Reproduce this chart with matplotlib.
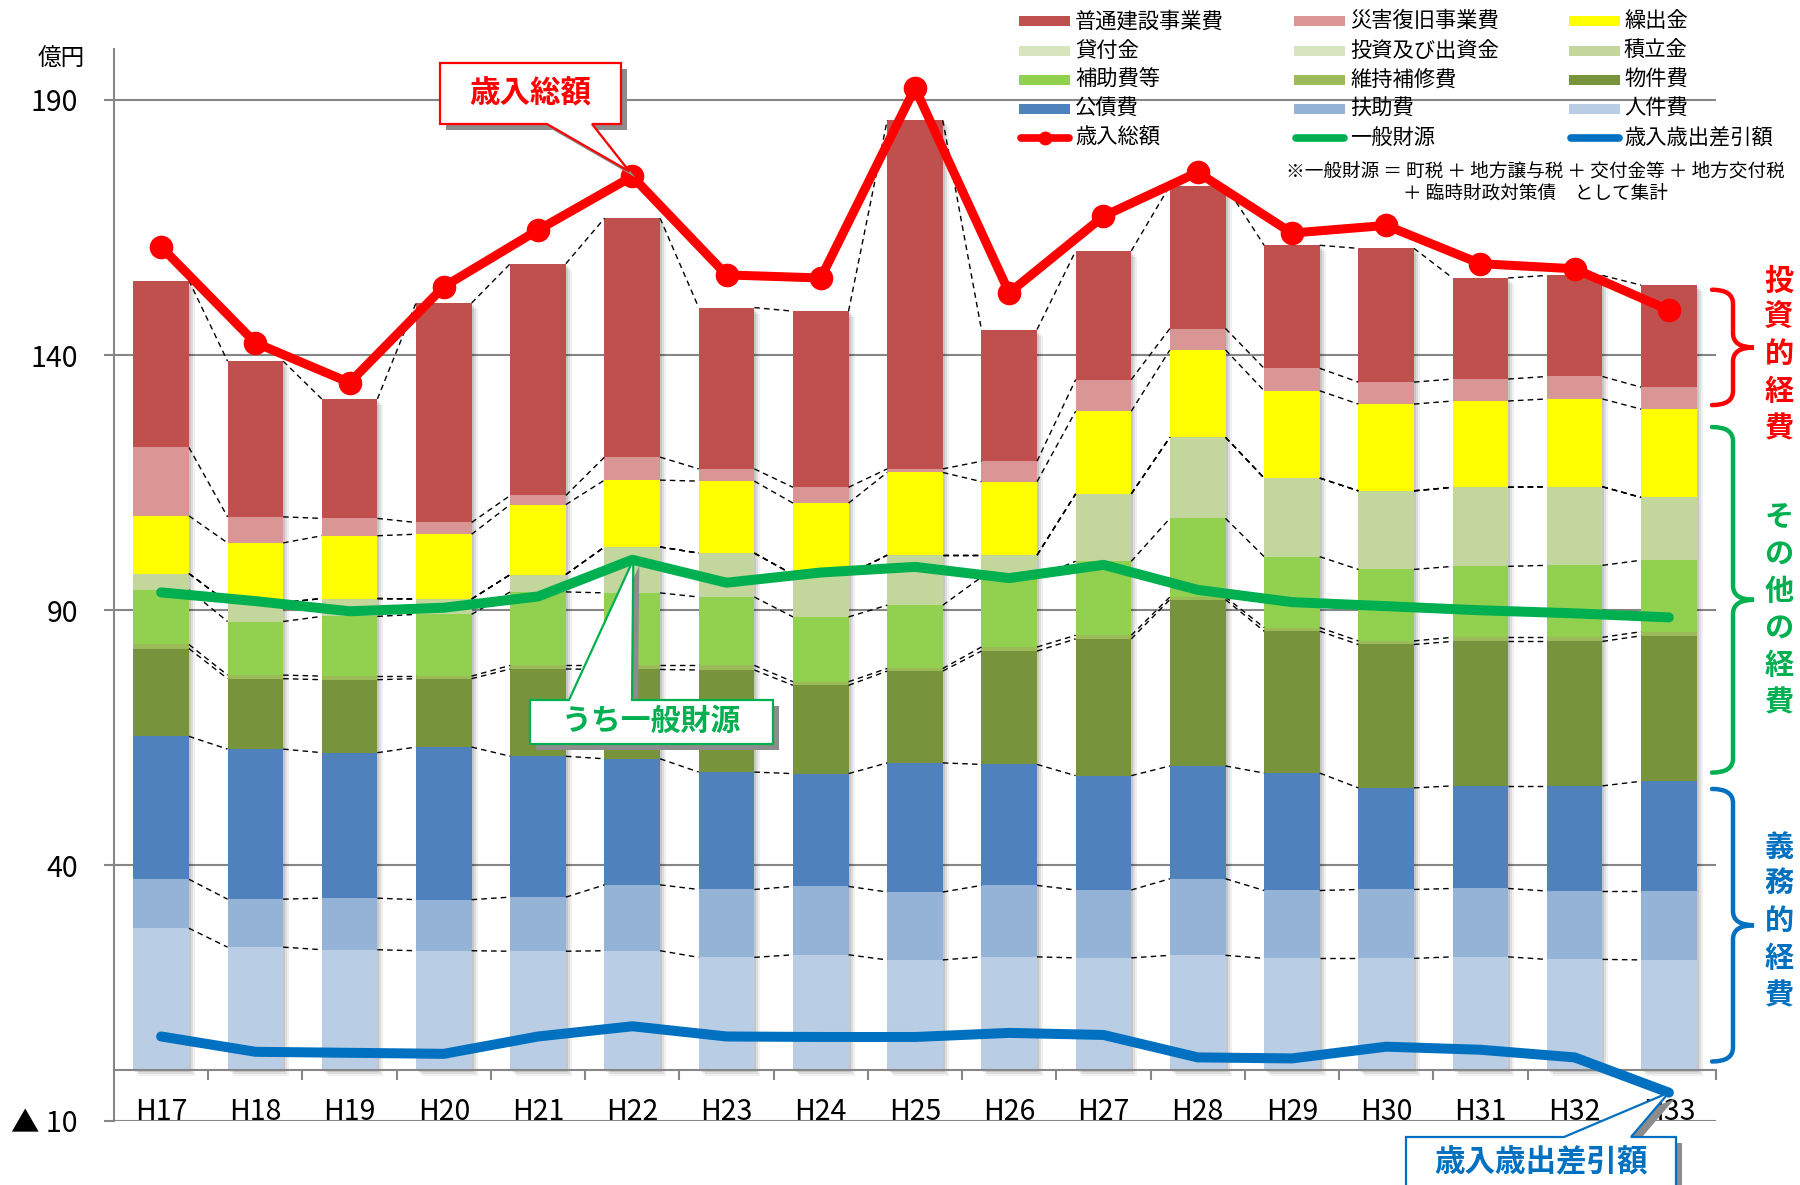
import matplotlib
matplotlib.use('Agg')
import matplotlib.pyplot as plt
import numpy as np
from matplotlib.patches import Rectangle, Polygon, PathPatch
from matplotlib.path import Path
from matplotlib.lines import Line2D
from matplotlib.collections import LineCollection
from matplotlib.transforms import offset_copy

plt.rcParams['font.family'] = ['Noto Sans CJK JP', 'DejaVu Sans']

# ---------------- data (億円) ----------------
years = ['H17', 'H18', 'H19', 'H20', 'H21', 'H22', 'H23', 'H24', 'H25',
         'H26', 'H27', 'H28', 'H29', 'H30', 'H31', 'H32', 'H33']

jinkenhi   = [27.7, 24.0, 23.5, 23.3, 23.2, 23.3, 22.0, 22.5, 21.5, 22.1, 21.9, 22.4, 21.8, 21.8, 22.1, 21.6, 21.5]  # 人件費
fujohi     = [9.6, 9.4, 10.1, 10.0, 10.6, 12.9, 13.3, 13.4, 13.3, 14.0, 13.3, 15.0, 13.3, 13.5, 13.4, 13.4, 13.5]     # 扶助費
kosaihi    = [28.0, 29.4, 28.5, 29.9, 27.6, 24.7, 23.0, 22.1, 25.3, 23.7, 22.4, 22.1, 23.0, 19.9, 20.1, 20.6, 21.5]    # 公債費
bukkenhi   = [17.2, 13.8, 14.3, 13.4, 17.1, 17.5, 20.0, 17.3, 18.0, 22.2, 26.8, 32.6, 27.8, 28.1, 28.3, 28.3, 28.5]    # 物件費
ijihoshu   = [0.8, 0.7, 0.7, 0.5, 0.7, 0.8, 0.9, 0.7, 0.5, 0.8, 0.7, 0.5, 0.7, 0.7, 0.8, 0.8, 0.8]                     # 維持補修費
hojohi     = [10.7, 10.5, 11.7, 12.1, 14.4, 14.2, 13.4, 12.7, 12.4, 13.7, 14.5, 15.4, 13.9, 14.0, 13.9, 14.1, 14.0]    # 補助費等
tsumitate  = [3.2, 3.7, 3.5, 3.0, 3.4, 9.0, 8.6, 8.3, 9.8, 4.3, 13.2, 15.9, 15.4, 15.4, 15.5, 15.4, 12.3]          # 積立金
toshi      = [0.0] * 17                                                                                              # 投資及び出資金
kashitsuke = [0.0] * 17                                                                                              # 貸付金
kuridashi  = [11.3, 11.7, 12.3, 12.7, 13.7, 13.1, 14.1, 14.0, 16.2, 14.4, 16.2, 17.1, 17.1, 17.0, 16.9, 17.2, 17.3] # 繰出金
saigai     = [13.4, 5.1, 3.4, 2.3, 1.8, 4.5, 2.4, 3.1, 0.7, 4.0, 6.2, 4.2, 4.4, 4.3, 4.3, 4.4, 4.3]                  # 災害復旧事業費
futsu      = [32.7, 30.5, 23.4, 43.0, 45.4, 46.8, 31.6, 34.5, 68.3, 25.8, 25.2, 28.0, 24.1, 26.2, 19.8, 19.8, 20.0]    # 普通建設事業費

revenue_total = [161.2, 142.4, 134.6, 153.4, 164.5, 175.0, 155.7, 155.1, 192.3,
                 152.2, 167.2, 175.8, 163.9, 165.4, 157.9, 156.9, 148.8]   # 歳入総額
general_rev   = [93.5, 91.8, 89.8, 90.5, 92.7, 99.9, 95.4, 97.4, 98.5,
                 96.3, 98.9, 94.0, 91.6, 90.8, 90.0, 89.4, 88.6]           # 一般財源
balance       = [6.5, 3.5, 3.3, 3.1, 6.5, 8.5, 6.5, 6.4, 6.4,
                 7.2, 6.8, 2.4, 2.2, 4.5, 3.9, 2.4, -4.5]                   # 歳入歳出差引額

yticks = [190, 140, 90, 40, -10]
yticklabels = ['190', '140', '90', '40', '▲ 10']

# stacking order bottom -> top
stack = [
    ('人件費', jinkenhi, '#b9cde5'),
    ('扶助費', fujohi, '#95b3d7'),
    ('公債費', kosaihi, '#4f81bd'),
    ('物件費', bukkenhi, '#77933c'),
    ('維持補修費', ijihoshu, '#9bbb59'),
    ('補助費等', hojohi, '#92d050'),
    ('積立金', tsumitate, '#c3d69b'),
    ('投資及び出資金', toshi, '#d7e4bd'),
    ('貸付金', kashitsuke, '#d7e4bd'),
    ('繰出金', kuridashi, '#ffff00'),
    ('災害復旧事業費', saigai, '#d99694'),
    ('普通建設事業費', futsu, '#c0504d'),
]
colors = {n: c for n, _, c in stack}

RED, GREEN, BLUE = '#ff0000', '#00b050', '#0070c0'
GRID = '#868686'

W, H = 1800, 1185
fig = plt.figure(figsize=(W / 100, H / 100), dpi=100)
ax = fig.add_axes([114 / W, 1 - 1120.7 / H, (1716 - 114) / W, (1120.7 - 48.8) / H])
n = len(years)
x = np.arange(n)
ax.set_xlim(-0.5, n - 0.5)
ax.set_ylim(-10, 200)

# axes styling
for s in ['top', 'right']:
    ax.spines[s].set_visible(False)
ax.spines['left'].set_color(GRID)
ax.spines['left'].set_linewidth(1.5)
ax.spines['bottom'].set_position(('data', 0))
ax.spines['bottom'].set_color(GRID)
ax.spines['bottom'].set_linewidth(1.5)
ax.set_yticks(yticks)
ax.set_yticklabels(yticklabels)
ax.tick_params(axis='y', length=7, width=1.5, color=GRID, pad=19, labelsize=20.5)
ax.set_xticks(x)
ax.set_xticklabels(years)
ax.set_xticks(np.arange(0.5, n, 1), minor=True)
ax.tick_params(axis='x', which='major', length=0, pad=20, labelsize=20.5)
ax.tick_params(axis='x', which='minor', length=7, width=1.5, color=GRID, direction='out')
for v in yticks:
    ax.axhline(v, color=GRID, lw=1.5, zorder=0)

# bar shadows
width = 0.59
cum = np.zeros(n)
tops = []
for name, vals, col in stack:
    cum = cum + np.array(vals)
    tops.append(cum.copy())
total = tops[-1]
for k, a in enumerate([0.10, 0.08, 0.06]):
    off = 2 + 2 * k
    tr = offset_copy(ax.transData, fig=fig, x=off, y=-off, units='dots')
    ax.bar(x, total, width, color='black', alpha=a, transform=tr, zorder=1, linewidth=0)

# stacked bars
bottom = np.zeros(n)
for name, vals, col in stack:
    ax.bar(x, vals, width, bottom=bottom, color=col, zorder=2, linewidth=0)
    bottom = bottom + np.array(vals)

# series (connector) lines
segs = []
for t in tops:
    for i in range(n - 1):
        segs.append([(x[i] + width / 2, t[i]), (x[i + 1] - width / 2, t[i + 1])])
ax.add_collection(LineCollection(segs, colors='black', linewidths=1.0,
                                 linestyles=(0, (4, 3)), zorder=3))

# lines
ax.plot(x, balance, color=BLUE, lw=7.2, solid_capstyle='round', solid_joinstyle='round', zorder=5)
ax.plot(x, general_rev, color=GREEN, lw=7.2, solid_capstyle='round', solid_joinstyle='round', zorder=5)
ax.plot(x, revenue_total, color=RED, lw=6.5, marker='o', ms=16, solid_joinstyle='round', zorder=6)

# ---------------- overlay in pixel coordinates ----------------
fig.canvas.draw()
ov = fig.add_axes([0, 0, 1, 1])
ov.set_xlim(0, W)
ov.set_ylim(H, 0)
ov.axis('off')


def px(xd, yd):
    X, Y = ax.transData.transform((xd, yd))
    return X, H - Y


ov.text(61, 59, '億円', fontsize=17, ha='center', va='center')

# legend
legend_rows = [
    ['普通建設事業費', '災害復旧事業費', '繰出金'],
    ['貸付金', '投資及び出資金', '積立金'],
    ['補助費等', '維持補修費', '物件費'],
    ['公債費', '扶助費', '人件費'],
    ['歳入総額', '一般財源', '歳入歳出差引額'],
]
line_styles = {'歳入総額': RED, '一般財源': GREEN, '歳入歳出差引額': BLUE}
row_y = [21, 51, 80, 109, 138]
col_px = [1019, 1294, 1569]
col_tx = [1077, 1352, 1626]
for r, row in enumerate(legend_rows):
    for c, name in enumerate(row):
        yy = row_y[r]
        if name in colors:
            ov.add_patch(Rectangle((col_px[c], yy - 5), 51, 10, color=colors[name], lw=0))
        else:
            col = line_styles[name]
            ov.add_line(Line2D([col_px[c] + 2, col_px[c] + 50], [yy, yy], color=col, lw=5.5,
                               solid_capstyle='round'))
            if name == '歳入総額':
                ov.add_line(Line2D([col_px[c] + 26], [yy], color=col, marker='o', ms=9))
        ov.text(col_tx[c] - 2, yy, name, fontsize=15.3, ha='left', va='center')

ov.text(1286, 172, '※一般財源 ＝ 町税 ＋ 地方譲与税 ＋ 交付金等 ＋ 地方交付税',
        fontsize=13.4, ha='left', va='center')
ov.text(1403, 194, '＋ 臨時財政対策債　として集計', fontsize=13.4, ha='left', va='center')


def callout(pts, edge):
    shadow = [(p[0] + 6, p[1] + 6) for p in pts]
    ov.add_patch(Polygon(shadow, closed=True, facecolor='#8c8c8c', edgecolor='none'))
    ov.add_patch(Polygon(pts, closed=True, facecolor='white', edgecolor=edge, lw=1.6,
                         joinstyle='miter'))


# 歳入総額 callout
tip = px(5, revenue_total[5])
callout([(440, 63), (621, 63), (621, 124), (592, 124), (tip[0] - 3, tip[1] - 5), (547, 124), (440, 124)], RED)
ov.text(530, 93, '歳入総額', color=RED, fontsize=22, fontweight='bold', ha='center', va='center')

# うち一般財源 callout
tip = px(5, general_rev[5])
callout([(530, 700), (569, 700), (tip[0] + 1, tip[1]), (632, 700), (773, 700), (773, 744), (530, 744)], GREEN)
ov.text(651, 721, 'うち一般財源', color=GREEN, fontsize=21.5, fontweight='bold', ha='center', va='center')

# 歳入歳出差引額 callout
tip = px(16, balance[16])
callout([(1406, 1137), (1564, 1137), (tip[0], tip[1]), (1631, 1137), (1676, 1137), (1676, 1195), (1406, 1195)], BLUE)
ov.text(1541, 1162, '歳入歳出差引額', color=BLUE, fontsize=22, fontweight='bold', ha='center', va='center')


# braces
def brace(y_top, y_bot, color):
    x0, xs, xt = 1712, 1733, 1754
    r = 14
    ym = (y_top + y_bot) / 2
    verts = [(x0, y_top), (xs, y_top), (xs, y_top + r),
             (xs, ym - r), (xs, ym), (xt, ym),
             (xs, ym), (xs, ym + r),
             (xs, y_bot - r), (xs, y_bot), (x0, y_bot)]
    codes = [Path.MOVETO, Path.CURVE3, Path.CURVE3,
             Path.LINETO, Path.CURVE3, Path.CURVE3,
             Path.CURVE3, Path.CURVE3,
             Path.LINETO, Path.CURVE3, Path.CURVE3]
    ov.add_patch(PathPatch(Path(verts, codes), facecolor='none', edgecolor=color, lw=3.2,
                           capstyle='round'))
    return ym


def vtext(label, ym, color):
    step = 37
    n_ch = len(label)
    y0 = ym - step * (n_ch - 1) / 2
    for i, ch in enumerate(label):
        ov.text(1779, y0 + i * step, ch, color=color, fontsize=21, fontweight='bold',
                ha='center', va='center')


last = n - 1
b_top = px(last, total[last] - 0.9)[1]
b_kuri = tops[9][last]
b_kosai = tops[2][last]
ym = brace(b_top, px(last, b_kuri + 0.8)[1], RED)
vtext('投資的経費', ym + 7, RED)
ym = brace(px(last, b_kuri - 3.5)[1], px(last, b_kosai + 1.7)[1], GREEN)
vtext('その他の経費', ym + 10, GREEN)
ym = brace(px(last, b_kosai - 1.5)[1], px(last, 1.6)[1], BLUE)
vtext('義務的経費', ym - 4, BLUE)

fig.savefig('out.png', dpi=100)
